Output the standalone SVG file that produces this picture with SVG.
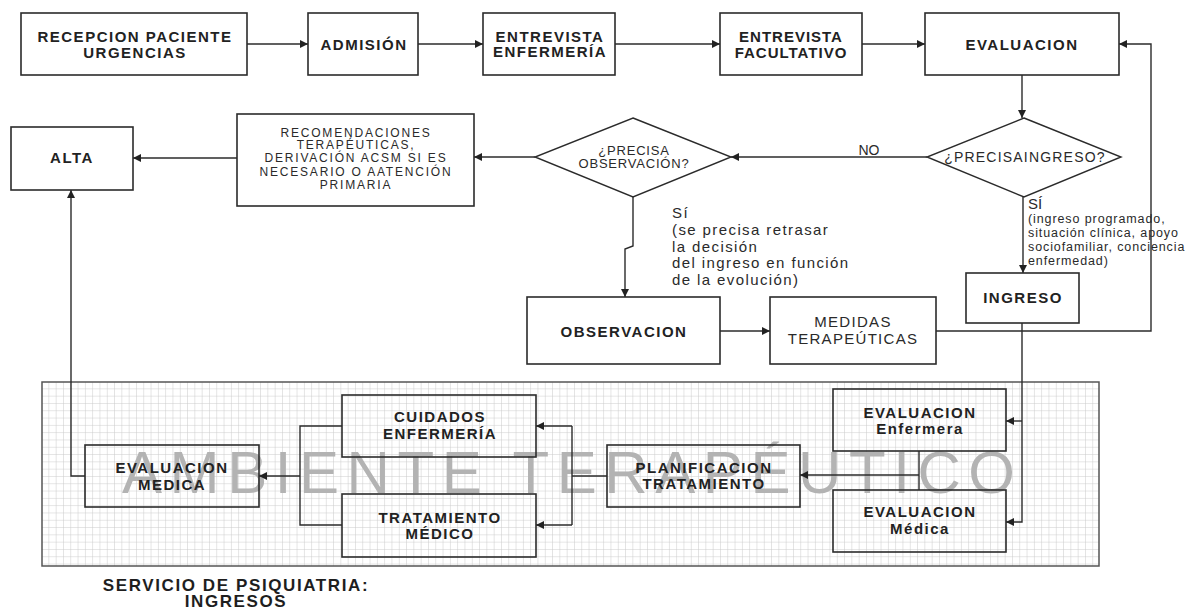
<svg xmlns="http://www.w3.org/2000/svg" width="1191" height="612" viewBox="0 0 1191 612">
  <defs>
    <marker id="arrow" viewBox="0 0 10 10" refX="10" refY="5" markerWidth="9" markerHeight="8" markerUnits="userSpaceOnUse" orient="auto">
      <path d="M0,0 L10,5 L0,10 z" fill="#222"/>
    </marker>
    <pattern id="grid" x="42" y="382" width="7.3" height="7.3" patternUnits="userSpaceOnUse">
      <path d="M7.3,0 V7.3 M0,7.3 H7.3" fill="none" stroke="#cacaca" stroke-width="1"/>
    </pattern>
  </defs>
  <style>
    .box { fill: none; stroke: #2b2b2b; stroke-width: 1.6; }
    .dia { fill: #fff; stroke: #2b2b2b; stroke-width: 1.4; }
    .conn { fill: none; stroke: #2b2b2b; stroke-width: 1.4; }
    .arr { marker-end: url(#arrow); }
    .b { font-family: "Liberation Sans", Arial, sans-serif; font-weight: bold; font-size: 15px; letter-spacing: 1.5px; fill: #222; text-anchor: middle; }
    .r { font-family: "Liberation Sans", Arial, sans-serif; font-size: 14px; fill: #2a2a2a; }
    .c { text-anchor: middle; }
  </style>
  <rect width="1191" height="612" fill="#fff"/>

  <!-- therapeutic environment area: grid background with its large caption -->
  <g id="ambiente">
    <rect x="42" y="382" width="1057" height="184" fill="url(#grid)" stroke="#555" stroke-width="1.5"/>
    <text x="122" y="493" textLength="893" lengthAdjust="spacing" font-family="'Liberation Sans', Arial, sans-serif" font-size="60" fill="#b3b3b3">AMBIENTE TERAPÉUTICO</text>
  </g>

  <g id="connectors">
    <path class="conn arr" d="M247,44 H308"/>
    <path class="conn arr" d="M418,44 H483"/>
    <path class="conn arr" d="M615,44 H720"/>
    <path class="conn arr" d="M862,44 H925"/>
    <path class="conn arr" d="M1022,75 V118"/>
    <path class="conn arr" d="M927,157 H731"/>
    <path class="conn arr" d="M535,157 H474"/>
    <path class="conn arr" d="M237,158 H133"/>
    <path class="conn arr" d="M633,197 V246 L625,249 V297"/>
    <path class="conn arr" d="M720,331 H770"/>
    <path class="conn arr" d="M936,331 H1151 V44 H1119"/>
    <path class="conn arr" d="M1023,197 V273"/>
    <path class="conn arr" d="M1022,323 V522 H1006"/>
    <path class="conn arr" d="M1022,421 H1006"/>
    <path class="conn" d="M919,451 V490"/>
    <path class="conn arr" d="M919,475 H800"/>
    <path class="conn" d="M607,476 H572 M572,426 V525"/>
    <path class="conn arr" d="M572,426 H536"/>
    <path class="conn arr" d="M572,525 H536"/>
    <path class="conn" d="M342,426 H300 V525 H342"/>
    <path class="conn arr" d="M300,476 H259"/>
    <path class="conn arr" d="M85,476 H71 V190"/>
  </g>

  <g id="recepcion">
    <rect class="box" x="21" y="13" width="226" height="62"/>
    <text class="b" x="135" y="42">RECEPCION PACIENTE</text>
    <text class="b" x="135" y="58">URGENCIAS</text>
  </g>
  <g id="admision">
    <rect class="box" x="308" y="13" width="110" height="62"/>
    <text class="b" x="364" y="50">ADMISIÓN</text>
  </g>
  <g id="entrevista-enfermeria">
    <rect class="box" x="483" y="13" width="132" height="62"/>
    <text class="b" x="550" y="42">ENTREVISTA</text>
    <text class="b" x="550" y="57">ENFERMERÍA</text>
  </g>
  <g id="entrevista-facultativo">
    <rect class="box" x="720" y="13" width="142" height="62"/>
    <text class="b" x="791" y="42" style="letter-spacing:1px">ENTREVISTA</text>
    <text class="b" x="791" y="58" style="letter-spacing:1px">FACULTATIVO</text>
  </g>
  <g id="evaluacion">
    <rect class="box" x="925" y="13" width="194" height="62"/>
    <text class="b" x="1022" y="50">EVALUACION</text>
  </g>

  <g id="precisa-ingreso">
    <polygon class="dia" points="1024,118 1121,157 1024,197 927,157"/>
    <text class="r c" x="1025" y="162" style="letter-spacing:1.2px">¿PRECISAINGRESO?</text>
  </g>
  <text class="r c" x="869" y="155" font-size="15">NO</text>

  <g id="precisa-observacion">
    <polygon class="dia" points="633,118 731,157 633,197 535,157"/>
    <text class="r c" x="634" y="155" style="font-size:13px;letter-spacing:0.8px">¿PRECISA</text>
    <text class="r c" x="634" y="168" style="font-size:13px;letter-spacing:0.8px">OBSERVACIÓN?</text>
  </g>

  <g id="recomendaciones">
    <rect class="box" x="237" y="114" width="237" height="92"/>
    <g class="r c" style="font-size:12px;letter-spacing:1.8px">
      <text x="356" y="137">RECOMENDACIONES</text>
      <text x="356" y="149">TERAPÉUTICAS,</text>
      <text x="356" y="162">DERIVACIÓN ACSM SI ES</text>
      <text x="356" y="176">NECESARIO O AATENCIÓN</text>
      <text x="356" y="189">PRIMARIA</text>
    </g>
  </g>

  <g id="alta">
    <rect class="box" x="11" y="127" width="122" height="63"/>
    <text class="b" x="72" y="163">ALTA</text>
  </g>

  <g id="label-si-observacion" class="r" style="font-size:15px;letter-spacing:1.4px">
    <text x="672" y="218">Sí</text>
    <text x="672" y="235">(se precisa retrasar</text>
    <text x="672" y="252">la decisión</text>
    <text x="672" y="268">del ingreso en función</text>
    <text x="672" y="285">de la evolución)</text>
  </g>

  <g id="label-si-ingreso" class="r" style="font-size:12.5px;letter-spacing:0.9px">
    <text x="1028" y="209" style="font-size:15px;letter-spacing:0">SÍ</text>
    <text x="1028" y="223">(ingreso programado,</text>
    <text x="1028" y="237">situación clínica, apoyo</text>
    <text x="1028" y="251">sociofamiliar, conciencia</text>
    <text x="1028" y="265">enfermedad)</text>
  </g>

  <g id="observacion">
    <rect class="box" x="527" y="297" width="193" height="67"/>
    <text class="b" x="624" y="337">OBSERVACION</text>
  </g>
  <g id="medidas">
    <rect class="box" x="770" y="297" width="166" height="67"/>
    <text class="r c" x="853" y="327" style="font-size:15px;letter-spacing:1.3px">MEDIDAS</text>
    <text class="r c" x="853" y="344" style="font-size:15px;letter-spacing:1.3px">TERAPEÚTICAS</text>
  </g>
  <g id="ingreso">
    <rect class="box" x="966" y="273" width="113" height="50"/>
    <text class="b" x="1023" y="303">INGRESO</text>
  </g>

  <g id="evaluacion-enfermera">
    <rect class="box" x="833" y="389" width="173" height="62"/>
    <text class="b" x="920" y="418">EVALUACION</text>
    <text class="b" x="920" y="434">Enfermera</text>
  </g>
  <g id="evaluacion-medica-ingreso">
    <rect class="box" x="833" y="490" width="173" height="62"/>
    <text class="b" x="920" y="517">EVALUACION</text>
    <text class="b" x="920" y="534">Médica</text>
  </g>
  <g id="planificacion">
    <rect class="box" x="607" y="445" width="193" height="62"/>
    <text class="b" x="704" y="473">PLANIFICACION</text>
    <text class="b" x="704" y="489">TRATAMIENTO</text>
  </g>
  <g id="cuidados">
    <rect class="box" x="342" y="395" width="194" height="62"/>
    <text class="b" x="440" y="422">CUIDADOS</text>
    <text class="b" x="440" y="439">ENFERMERÍA</text>
  </g>
  <g id="tratamiento">
    <rect class="box" x="342" y="494" width="194" height="63"/>
    <text class="b" x="440" y="523">TRATAMIENTO</text>
    <text class="b" x="440" y="539">MÉDICO</text>
  </g>
  <g id="evaluacion-medica">
    <rect class="box" x="85" y="445" width="174" height="62"/>
    <text class="b" x="172" y="473">EVALUACION</text>
    <text class="b" x="172" y="490">MEDICA</text>
  </g>

  <g id="titulo">
    <text class="b" x="236" y="591" style="font-size:17px;letter-spacing:1.6px;fill:#1e1e1e">SERVICIO DE PSIQUIATRIA:</text>
    <text class="b" x="236" y="607" style="font-size:17px;letter-spacing:1.6px;fill:#1e1e1e">INGRESOS</text>
  </g>
</svg>
